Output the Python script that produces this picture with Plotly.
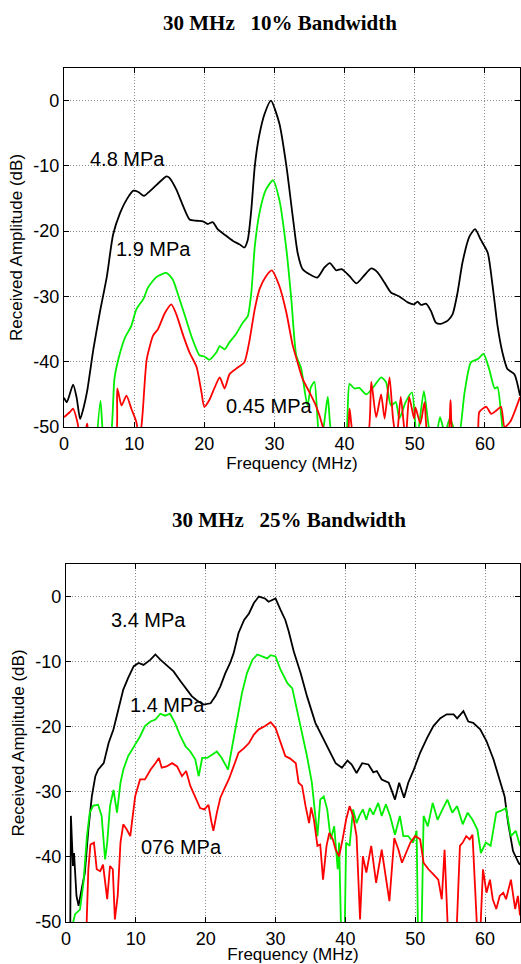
import plotly.graph_objects as go

# ---------------- data: 30 MHz, 10% bandwidth ----------------
top_black_f = [0, 0.4, 1.3, 1.8, 2.3, 2.8, 3.3, 4.2, 5.1, 6.1, 7.0, 8.0, 8.9, 9.9, 10.6, 11.4, 12.2, 13.2, 14.6, 15.0,
               16.0, 17.0, 17.9, 18.9, 19.8, 20.5, 21.2, 21.9, 23.1, 24.1, 25.0, 25.7, 26.2, 26.7, 27.2, 27.8, 28.6,
               29.5, 30.7, 31.7, 32.6, 33.3, 34.0, 35.0, 36.1, 37.1, 37.9, 38.8, 39.6, 40.7, 41.7, 42.7, 43.8, 44.7,
               45.7, 46.6, 47.8, 49.0, 49.9, 50.4, 50.9, 51.6, 52.3, 53.0, 53.7, 54.7, 55.4, 56.1, 56.8, 57.8, 58.6,
               59.4, 60.4, 61.1, 61.8, 62.5, 63.2, 64.2, 65.0]
top_black_db = [-45.5, -46.2, -43.5, -45.5, -48.8, -47.0, -44.5, -38.0, -32.5, -27.0, -20.5, -17.2, -15.2, -13.8, -14.0,
                -14.6, -13.9, -12.9, -11.6, -11.8, -13.6, -16.2, -18.2, -18.4, -18.5, -18.9, -18.6, -19.7, -20.7,
                -21.5, -22.0, -22.5, -21.3, -16.7, -10.0, -5.5, -2.0, 0.0, -3.5, -10.0, -17.7, -23.3, -25.8, -26.6,
                -27.1, -25.6, -24.9, -26.0, -25.8, -26.9, -28.0, -26.9, -25.7, -26.3, -27.9, -29.4, -30.0, -30.9,
                -31.2, -30.8, -31.3, -31.1, -32.2, -34.0, -34.2, -33.7, -32.7, -29.4, -24.8, -20.8, -19.7, -21.3,
                -23.3, -28.4, -34.5, -38.6, -41.1, -41.9, -45.2]

top_green_f = [4.6, 5.2, 5.8, 6.6, 7.2, 8.0, 8.7, 9.6, 10.3, 11.3, 12.0, 13.2, 14.6, 15.5, 16.4, 17.4, 18.3, 19.3, 20.0,
               20.7, 21.7, 22.2, 22.9, 23.6, 24.5, 25.5, 26.2, 26.7, 27.2, 27.9, 28.8, 29.8, 30.7, 31.7, 32.4, 33.1,
               33.8, 34.7, 35.2, 35.7, 36.4, 37.0, 37.6, 38.3, 40.0, 40.7, 41.4, 42.1, 43.1, 44.3, 45.2, 45.9, 46.6,
               47.3, 47.8, 48.7, 49.6, 50.3, 51.3, 52.0, 52.8, 53.6, 54.3, 55.0, 56.2, 57.1, 58.0, 59.0, 59.8, 60.6,
               61.4, 61.8, 62.5, 63.2]
top_green_db = [-53, -46, -53, -52, -42.5, -38.6, -36.3, -34.5, -32.0, -30.4, -28.6, -27.0, -26.4, -27.4, -30.2, -33.5,
                -36.5, -39.0, -39.2, -39.7, -38.6, -37.6, -38.1, -37.0, -35.8, -34.0, -33.0, -29.4, -22.3, -17.0,
                -13.6, -12.2, -15.2, -22.8, -30.4, -39.0, -41.0, -46.7, -43.9, -43.1, -52, -50, -45.4, -52, -53,
                -43.4, -44.1, -44.0, -45.0, -43.6, -42.4, -43.1, -46.7, -46.2, -48.7, -46.2, -44.7, -52, -44.5, -50,
                -53, -48.5, -51, -48.7, -52, -44.7, -40.1, -39.6, -38.8, -41.1, -44.1, -43.9, -50, -53]

top_red_f = [0, 0.85, 1.3, 1.9, 2.4, 3.0, 3.3, 3.7, 7.2, 7.6, 8.2, 8.9, 9.6, 10.3, 10.8, 11.2, 11.8, 12.7, 13.4, 14.4,
             15.3, 16.0, 17.0, 17.9, 18.9, 19.6, 20.0, 20.7, 21.5, 22.2, 22.9, 23.6, 24.5, 25.7, 26.4, 27.2, 27.9,
             28.8, 29.6, 30.7, 31.7, 32.6, 33.3, 34.0, 35.0, 35.9, 36.9, 37.5, 40.2, 40.7, 41.4, 43.2, 43.8, 44.5,
             45.2, 45.7, 46.4, 46.9, 47.4, 48.0, 48.7, 49.2, 49.9, 50.1, 50.8, 51.4, 52.0, 54.6, 55.1, 55.6, 58.8,
             59.2, 60.2, 60.9, 61.6, 62.3, 62.8, 63.6, 65.0]
top_red_db = [-48.5, -47.7, -47.2, -49.2, -52, -51, -49.5, -52, -53, -44.1, -46.7, -45.2, -47.2, -49.2, -52, -48,
              -39.6, -36.0, -35.0, -32.5, -31.2, -32.7, -36.0, -38.6, -40.8, -44.7, -46.9, -45.9, -43.9, -42.4,
              -44.1, -41.9, -41.1, -40.1, -37.0, -31.9, -28.8, -26.9, -26.0, -28.4, -32.5, -37.5, -40.1, -42.6,
              -44.7, -46.7, -50, -53, -53, -47.2, -52, -52, -43.1, -48.5, -45.0, -48.7, -42.4, -48.7, -52, -45.4,
              -52, -45.4, -48.7, -47.0, -49.5, -46.2, -52, -52, -45.9, -52, -52, -47.7, -46.9, -48.0, -47.5, -46.9,
              -50, -49.2, -45.4]

# ---------------- data: 30 MHz, 25% bandwidth ----------------
bot_black_f = [0.6, 0.7, 1.0, 1.15, 1.5, 1.8, 2.2, 2.7, 3.2, 3.7, 4.2, 4.6, 5.4, 6.1, 6.8, 7.5, 8.2, 8.9, 9.7, 10.4,
               11.1, 12.1, 12.8, 13.5, 14.4, 15.4, 16.4, 17.3, 18.0, 18.8, 19.7, 20.7, 21.4, 22.1, 22.8, 23.5, 24.0,
               24.7, 25.5, 26.2, 26.9, 27.6, 28.5, 29.0, 30.0, 30.7, 31.4, 31.9, 32.6, 33.6, 34.5, 35.7, 36.7, 37.6,
               38.6, 39.5, 40.3, 40.9, 41.6, 42.4, 43.3, 44.0, 44.5, 45.2, 46.2, 46.6, 47.1, 47.7, 48.4, 49.0, 49.8,
               50.7, 51.7, 52.6, 53.6, 54.5, 55.5, 56.0, 56.9, 57.6, 58.3, 59.3, 60.2, 61.2, 62.1, 62.8, 63.3, 64.0,
               64.8, 65.0]
bot_black_db = [-53, -33.7, -41.4, -39.4, -46.0, -47.5, -45.2, -42.4, -35.8, -30.7, -27.6, -26.6, -25.6, -22.5, -20.4,
                -17.4, -14.3, -12.5, -10.7, -10.2, -10.5, -9.7, -8.9, -9.7, -10.5, -11.5, -13.0, -14.3, -15.3, -16.0,
                -16.6, -16.4, -15.3, -13.8, -11.8, -10.2, -8.7, -5.6, -3.6, -2.6, -1.0, 0.0, -0.3, -0.8, -0.3, -2.0,
                -3.6, -5.4, -8.4, -11.8, -15.3, -19.4, -21.5, -23.5, -25.6, -26.3, -25.2, -25.8, -27.1, -25.6, -25.8,
                -27.0, -26.8, -28.1, -28.6, -29.7, -31.2, -28.6, -30.9, -28.6, -26.6, -24.0, -21.7, -19.9, -18.7,
                -18.1, -18.1, -18.7, -17.6, -19.2, -19.4, -20.4, -22.2, -25.0, -28.1, -30.7, -34.8, -39.1, -40.9,
                -41.2]

bot_green_f = [0.8, 1.3, 2.0, 2.5, 3.0, 3.4, 3.9, 4.6, 5.1, 5.6, 5.9, 6.3, 6.8, 7.3, 7.8, 8.2, 8.9, 9.7, 10.6, 11.3,
               12.1, 12.8, 13.5, 14.2, 14.9, 15.6, 16.4, 17.1, 17.8, 18.5, 19.0, 19.5, 20.2, 20.9, 21.6, 22.3, 23.2,
               23.8, 24.5, 25.2, 25.9, 26.7, 27.4, 28.8, 29.3, 30.0, 30.7, 31.7, 32.4, 33.1, 33.8, 34.5, 35.2, 35.7,
               36.0, 36.4, 36.9, 37.4, 37.9, 38.4, 38.9, 39.1, 39.4, 39.9, 40.1, 40.6, 41.1, 41.6, 42.0, 42.5, 43.0,
               43.5, 44.0, 44.7, 45.2, 45.8, 46.4, 47.1, 47.8, 48.3, 49.0, 49.7, 50.2, 50.4, 50.9, 51.2, 51.8, 52.5,
               53.2, 53.9, 54.6, 55.3, 56.0, 56.8, 57.5, 58.2, 58.9, 59.4, 60.1, 60.8, 61.6, 62.3, 63.0, 63.7, 64.4,
               65.0]
bot_green_db = [-51, -48.8, -48.1, -44.0, -36.8, -33.2, -32.1, -32.0, -33.7, -40.4, -37.8, -32.2, -29.7, -33.2, -28.6,
                -26.6, -24.5, -23.0, -21.5, -19.9, -19.2, -18.9, -18.0, -18.3, -18.0, -19.4, -21.5, -23.0, -23.8,
                -25.0, -27.6, -24.8, -24.8, -24.3, -23.8, -24.8, -26.6, -23.0, -18.9, -14.8, -11.8, -9.7, -8.9, -9.5,
                -9.0, -9.2, -11.2, -13.3, -14.1, -17.4, -21.0, -24.5, -28.6, -33.7, -36.8, -31.2, -30.7, -32.7, -37.3,
                -35.3, -41.9, -37.8, -52, -52, -37.8, -38.3, -32.7, -34.8, -33.7, -32.7, -34.3, -32.5, -33.5, -31.7,
                -33.7, -31.9, -33.7, -36.6, -33.7, -36.8, -36.8, -37.8, -36.0, -52, -52, -33.7, -35.3, -31.7, -34.3,
                -32.7, -31.2, -33.2, -32.2, -35.0, -33.2, -34.3, -35.8, -39.4, -37.8, -38.3, -33.2, -32.9, -32.5,
                -36.8, -36.0, -38.3]

bot_red_f = [2.9, 3.2, 3.5, 4.0, 4.4, 4.9, 5.3, 5.6, 5.9, 6.3, 6.7, 7.0, 7.4, 7.8, 8.2, 8.7, 9.2, 9.9, 10.6, 11.3, 12.1,
             12.8, 13.3, 13.7, 14.4, 15.2, 15.9, 16.6, 17.2, 17.8, 18.5, 19.2, 19.8, 20.4, 20.8, 21.1, 21.6, 22.1,
             22.6, 23.3, 24.0, 24.7, 25.5, 26.2, 26.9, 27.6, 28.5, 29.3, 30.0, 30.7, 31.4, 32.1, 32.9, 33.3, 33.8,
             34.3, 34.8, 35.1, 35.5, 36.0, 36.4, 36.8, 37.3, 37.7, 38.2, 38.6, 39.1, 39.6, 40.1, 40.6, 41.1, 41.6,
             42.1, 42.5, 43.0, 43.7, 44.4, 45.2, 45.7, 46.3, 47.0, 47.6, 48.1, 48.6, 49.3, 50.0, 50.7, 51.2, 51.9,
             52.6, 53.3, 53.8, 54.2, 54.7, 55.9, 56.4, 56.8, 57.3, 57.8, 58.2, 58.5, 58.9, 59.3, 59.7, 60.2, 60.7,
             61.1, 61.6, 62.1, 62.6, 63.0, 63.7, 64.3, 64.7, 65.0]
bot_red_db = [-52, -41.9, -38.1, -37.8, -41.9, -42.2, -41.2, -43.5, -46.5, -41.4, -41.9, -49.6, -46.0, -37.8, -35.0,
              -35.8, -36.8, -30.7, -28.1, -28.1, -26.6, -25.6, -24.8, -26.3, -26.1, -25.6, -26.1, -27.6, -26.8, -29.1,
              -30.7, -32.5, -32.7, -32.0, -34.5, -36.0, -33.2, -30.9, -29.7, -28.1, -26.1, -24.0, -23.3, -22.5,
              -21.2, -20.4, -19.9, -19.3, -20.2, -22.5, -24.5, -24.9, -25.6, -28.6, -29.1, -32.2, -34.8, -32.4,
              -34.3, -38.3, -38.1, -43.5, -38.3, -36.3, -37.3, -38.9, -39.9, -37.3, -34.3, -32.2, -33.7, -36.8,
              -49.6, -39.9, -42.4, -38.3, -44.0, -38.9, -42.4, -46.8, -37.1, -38.9, -40.9, -39.6, -37.8, -36.8,
              -37.3, -40.9, -41.9, -42.7, -43.5, -46.5, -38.9, -52, -52, -38.3, -37.8, -36.8, -37.3, -36.6, -42.9,
              -52, -52, -41.9, -45.5, -43.5, -46.5, -48.0, -46.0, -45.5, -46.5, -43.5, -48.0, -46.0, -49.0]

x_ticks = [0, 10, 20, 30, 40, 50, 60]
y_ticks = [-50, -40, -30, -20, -10, 0]
y_tick_text = ["-50", "-40", "-30", "-20", "-10", "0"]

titles = ["30 MHz   10% Bandwidth", "30 MHz   25% Bandwidth"]
top_labels = [("4.8 MPa", 9.0, -8.9), ("1.9 MPa", 12.8, -22.8), ("0.45 MPa", 29.2, -46.8)]
bot_labels = [("3.4 MPa", 11.8, -3.6), ("1.4 MPa", 14.5, -16.6), ("076 MPa", 16.6, -38.5)]

BLACK, GREEN, RED = "#000000", "#00ee00", "#ff0000"
LW = 1.8
SANS = "Liberation Sans, Arial, sans-serif"

fig = go.Figure()
for f, d, c in [(top_black_f, top_black_db, BLACK), (top_green_f, top_green_db, GREEN), (top_red_f, top_red_db, RED)]:
    fig.add_trace(go.Scatter(x=f, y=d, mode="lines", line=dict(color=c, width=LW, shape="spline", smoothing=0.6),
                             xaxis="x", yaxis="y", showlegend=False, hoverinfo="skip"))
for f, d, c in [(bot_black_f, bot_black_db, BLACK), (bot_green_f, bot_green_db, GREEN), (bot_red_f, bot_red_db, RED)]:
    fig.add_trace(go.Scatter(x=f, y=d, mode="lines", line=dict(color=c, width=LW),
                             xaxis="x2", yaxis="y2", showlegend=False, hoverinfo="skip"))

W, H = 521, 964
def xdom(l, r):
    return [l / W, r / W]
def ydom(t, b):
    return [(H - b) / H, (H - t) / H]

common_axis = dict(showline=True, linecolor="black", linewidth=1.2, mirror="ticks", ticks="inside", ticklen=5,
                   tickcolor="black", showgrid=True, gridcolor="#8c8c8c", griddash="1px,2px", gridwidth=1,
                   zeroline=False, tickfont=dict(family=SANS, size=18, color="black"), automargin=False)

xa_common = dict(common_axis, range=[0, 65], tickmode="array", tickvals=x_ticks, ticktext=[str(v) for v in x_ticks])
xa_top = dict(xa_common, title=dict(text="Frequency (MHz)", font=dict(family=SANS, size=17, color="black"),
                                    standoff=2))
xa_bot = dict(xa_common, title=dict(text="Frequency (MHz)", font=dict(family=SANS, size=17, color="black"),
                                    standoff=4))
ya = dict(common_axis, range=[-50, 5], tickmode="array", tickvals=y_ticks, ticktext=y_tick_text,
          title=dict(text="Received Amplitude (dB)", font=dict(family=SANS, size=17, color="black"), standoff=6))

annotations = []
annotations.append(dict(text="<b>" + titles[0] + "</b>", x=280 / W, y=(H - 23) / H, xref="paper", yref="paper",
                        showarrow=False, font=dict(family="Liberation Serif, Times New Roman, serif", size=21,
                                                   color="black"), xanchor="center", yanchor="middle"))
annotations.append(dict(text="<b>" + titles[1] + "</b>", x=289 / W, y=(H - 520) / H, xref="paper", yref="paper",
                        showarrow=False, font=dict(family="Liberation Serif, Times New Roman, serif", size=21,
                                                   color="black"), xanchor="center", yanchor="middle"))
for t, x, y in top_labels:
    annotations.append(dict(text=t, x=x, y=y, xref="x", yref="y", showarrow=False,
                            font=dict(family=SANS, size=20, color="black")))
for t, x, y in bot_labels:
    annotations.append(dict(text=t, x=x, y=y, xref="x2", yref="y2", showarrow=False,
                            font=dict(family=SANS, size=20, color="black")))

fig.update_layout(
    width=W, height=H, margin=dict(l=0, r=0, t=0, b=0), paper_bgcolor="white", plot_bgcolor="white",
    xaxis=dict(xa_top, domain=xdom(64, 520), anchor="y"),
    yaxis=dict(ya, domain=ydom(68, 427), anchor="x"),
    xaxis2=dict(xa_bot, domain=xdom(66, 520), anchor="y2"),
    yaxis2=dict(ya, domain=ydom(564, 922), anchor="x2"),
    annotations=annotations, showlegend=False,
)

fig.write_html("out.html", config={"displayModeBar": False},
               post_script="document.body.style.margin='0';document.body.style.overflow='hidden';")
